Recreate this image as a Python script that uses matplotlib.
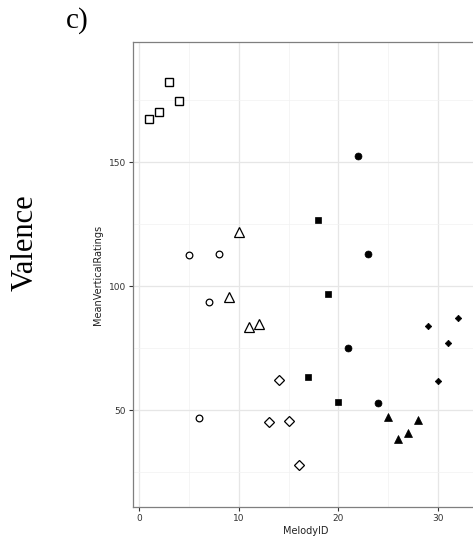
import matplotlib
matplotlib.use("Agg")
import matplotlib.pyplot as plt
from matplotlib.ticker import MultipleLocator

# Data
melody_id = list(range(1, 33))
ratings = [167.3, 170.3, 182.5, 174.6,
           112.6, 46.7, 93.7, 113.1,
           95.7, 121.8, 83.5, 84.6,
           45.3, 62.4, 45.7, 27.8,
           63.3, 126.7, 96.8, 53.4,
           75.3, 152.5, 113.0, 53.0,
           47.3, 38.5, 41.0, 46.1,
           84.0, 62.0, 77.0, 87.1]
groups = ["sq_open"] * 4 + ["ci_open"] * 4 + ["tr_open"] * 4 + ["di_open"] * 4 + \
         ["sq_fill"] * 4 + ["ci_fill"] * 4 + ["tr_fill"] * 4 + ["di_fill"] * 4

styles = {
    "sq_open": dict(marker="s", ms=5.3, mfc="white", mec="black", mew=1.0),
    "ci_open": dict(marker="o", ms=4.8, mfc="white", mec="black", mew=0.9),
    "tr_open": dict(marker="^", ms=6.8, mfc="white", mec="black", mew=0.9),
    "di_open": dict(marker="D", ms=5.0, mfc="white", mec="black", mew=0.9),
    "sq_fill": dict(marker="s", ms=4.6, mfc="black", mec="black", mew=0.5),
    "ci_fill": dict(marker="o", ms=5.0, mfc="black", mec="black", mew=0.5),
    "tr_fill": dict(marker="^", ms=5.6, mfc="black", mec="black", mew=0.5),
    "di_fill": dict(marker="D", ms=3.3, mfc="black", mec="black", mew=0.5),
}

W, H = 473, 542
fig = plt.figure(figsize=(W / 100, H / 100), dpi=100)
left, right, top, bottom = 133, 478, 42, 507
ax = fig.add_axes([left / W, 1 - bottom / H, (right - left) / W, (bottom - top) / H])

for g in ["sq_open", "ci_open", "tr_open", "di_open", "sq_fill", "ci_fill", "tr_fill", "di_fill"]:
    xs = [x for x, gg in zip(melody_id, groups) if gg == g]
    ys = [y for y, gg in zip(ratings, groups) if gg == g]
    ax.plot(xs, ys, linestyle="none", zorder=3, **styles[g])

ax.set_xlim(-0.6, 34.0)
ax.set_ylim(11.0, 198.5)
ax.xaxis.set_major_locator(MultipleLocator(10))
ax.xaxis.set_minor_locator(MultipleLocator(5))
ax.yaxis.set_major_locator(MultipleLocator(50))
ax.yaxis.set_minor_locator(MultipleLocator(25))
ax.grid(which="major", color="#e6e6e6", linewidth=0.9)
ax.grid(which="minor", color="#f2f2f2", linewidth=0.5)
ax.set_axisbelow(True)
for s in ax.spines.values():
    s.set_color("#7f7f7f")
    s.set_linewidth(0.9)
ax.tick_params(which="major", length=3, width=0.8, color="#333333",
               labelsize=6.5, labelcolor="#333333", pad=2)
ax.tick_params(which="minor", length=0)
ax.set_xlabel("MelodyID", fontsize=7, color="#222222", labelpad=2)
ax.set_ylabel("MeanVerticalRatings", fontsize=7, color="#222222", labelpad=4)

fig.text(77 / W, 1 - 21 / H, "c)", family="Liberation Serif", fontsize=21,
         ha="center", va="center")
fig.text(25 / W, 1 - 243 / H, "Valence", family="Liberation Serif", fontsize=22,
         rotation=90, ha="center", va="center")

fig.savefig("out.png", dpi=100)
